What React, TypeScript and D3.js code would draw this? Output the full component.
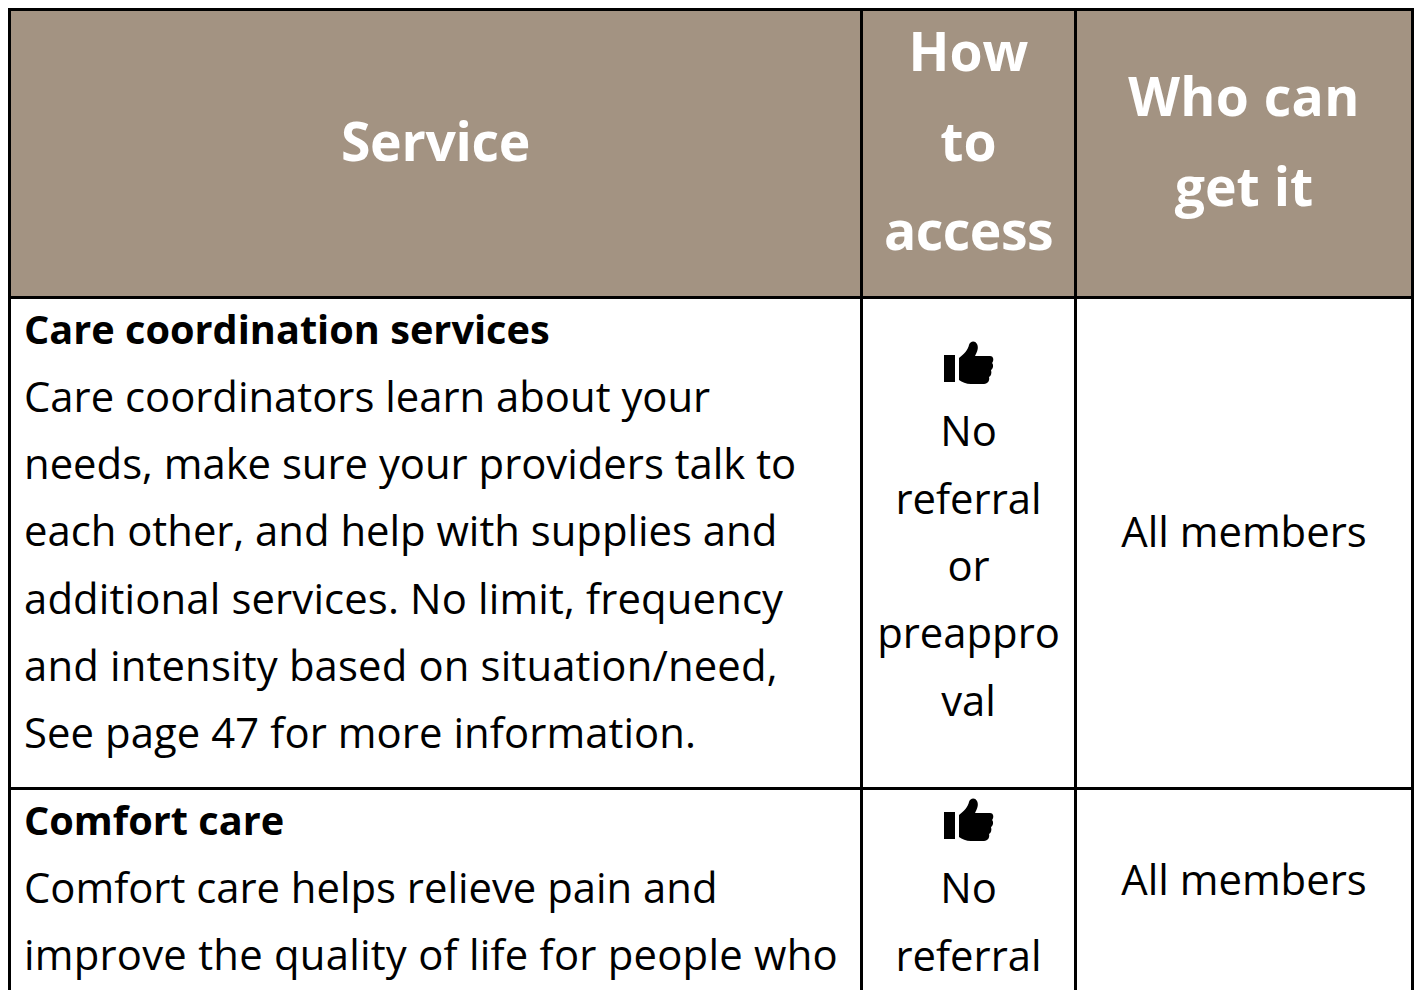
import React, { useRef, useEffect } from "react";
import * as d3 from "d3";

const headers = [["Service"], ["How", "to", "access"], ["Who can", "get it"]];
const serviceOne = [
  "Care coordinators learn about your",
  "needs, make sure your providers talk to",
  "each other, and help with supplies and",
  "additional services. No limit, frequency",
  "and intensity based on situation/need,",
  "See page 47 for more information.",
];
const serviceTwo = ["Comfort care helps relieve pain and", "improve the quality of life for people who"];
const titles = ["Care coordination services", "Comfort care"];
const accessOne = ["No", "referral", "or", "preappro", "val"];
const accessTwo = ["No", "referral"];
const who = "All members";

const font = "'Open Sans', sans-serif";
const headerFill = "#a39382";
const edgesX = [9.5, 861.5, 1075.5, 1412.5];
const edgesY = [9.5, 297.5, 788.5, 1000];

// small per-line tracking, the reference font runs a bit wider on some lines
const trackHeader = [[-0.3], [0, 0, -0.5], [0.4, 0]];
const trackOne = [0, 0, 0, 0.15, 0.16, 0.09];
const trackTwo = [0, 0.24];

const thumb =
  "M0 14 H11 V41 H0 Z M15 17 C20 13 24 9 25 4 C26 0 31 -1 33 3 C35 7 33 11 31 15 H46 C50 15 50 20 48 22 C50 24 49 28 47 29 C48 32 47 35 45 36 C46 39 44 43 40 43 H27 C22 43 18 41 15 39 Z";

const App = () => {
  const ref = useRef<SVGSVGElement>(null);

  useEffect(() => {
    const svg = d3.select(ref.current);
    svg.selectAll("*").remove();

    const text = (t: string, x: number, y: number, size: number, weight = 400, anchor = "start", fill = "#000", track = 0) =>
      svg.append("text").attr("x", x).attr("y", y).attr("text-anchor", anchor)
        .attr("font-family", font).attr("font-size", size).attr("font-weight", weight)
        .attr("letter-spacing", track).attr("fill", fill).text(t);

    svg.append("rect").attr("x", edgesX[0]).attr("y", edgesY[0])
      .attr("width", edgesX[3] - edgesX[0]).attr("height", edgesY[1] - edgesY[0])
      .attr("fill", headerFill);

    // grid lines
    edgesX.forEach(x => svg.append("line").attr("x1", x).attr("x2", x).attr("y1", 8).attr("y2", 990)
      .attr("stroke", "#000").attr("stroke-width", 3));
    edgesY.slice(0, 3).forEach(y => svg.append("line").attr("x1", 8).attr("x2", 1414).attr("y1", y).attr("y2", y)
      .attr("stroke", "#000").attr("stroke-width", 3));

    const centers = d3.pairs(edgesX).map(([a, b]) => (a + b) / 2);
    const headerBase = [161, 71, 116];
    headers.forEach((lines, c) => lines.forEach((l, i) =>
      text(l, centers[c], headerBase[c] + i * 89.5, 53.5, 700, "middle", "#fff", trackHeader[c][i])));

    const bodySize = 41.8;
    const lineH = 67.3;
    const left = 24;
    text(titles[0], left, 344, 39.7, 700);
    serviceOne.forEach((l, i) => text(l, left, 411.7 + i * lineH, bodySize, 400, "start", "#000", trackOne[i]));
    text(titles[1], left, 835, 39.7, 700);
    serviceTwo.forEach((l, i) => text(l, left, 902.7 + i * lineH, bodySize, 400, "start", "#000", trackTwo[i]));

    accessOne.forEach((l, i) => text(l, centers[1], 446.4 + i * lineH, bodySize, 400, "middle"));
    accessTwo.forEach((l, i) => text(l, centers[1], 903.4 + i * lineH, bodySize, 400, "middle"));

    [341, 798].forEach(y => svg.append("path").attr("d", thumb)
      .attr("transform", `translate(944,${y})`).attr("fill", "#000"));

    text(who, centers[2], 547, bodySize, 400, "middle");
    text(who, centers[2], 895, bodySize, 400, "middle");
  }, []);

  return <svg ref={ref} width={1418} height={990} style={{ position: "absolute", left: 0, top: 0, background: "#fff" }} />;
};

export default App;
